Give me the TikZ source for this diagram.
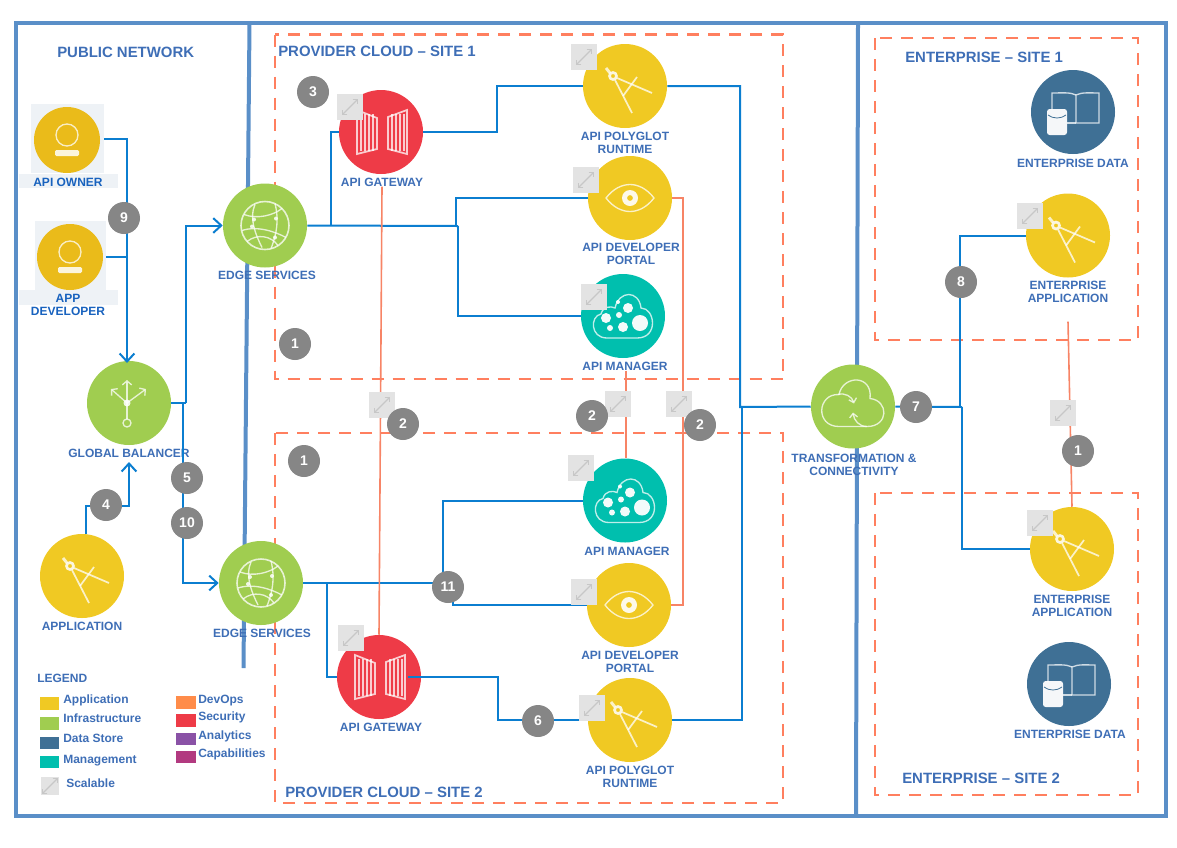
\documentclass[tikz,border=0pt]{standalone}
\usepackage{fontspec}
\setmainfont{Liberation Sans}
\usepackage{xcolor}
\usetikzlibrary{arrows.meta, positioning}
\definecolor{framblue}{RGB}{90,143,200}
\definecolor{siteorange}{RGB}{255,127,95}
\definecolor{linkblue}{RGB}{11,126,208}
\definecolor{redlink}{RGB}{247,132,102}
\definecolor{textblue}{RGB}{62,110,182}
\definecolor{peopleblue}{RGB}{24,98,190}
\definecolor{appyellow}{RGB}{240,201,35}
\definecolor{peopleyellow}{RGB}{234,187,26}
\definecolor{infragreen}{RGB}{160,205,80}
\definecolor{storeblue}{RGB}{63,112,149}
\definecolor{mgmtteal}{RGB}{0,191,174}
\definecolor{secred}{RGB}{238,59,71}
\definecolor{devorange}{RGB}{255,140,74}
\definecolor{anapurple}{RGB}{138,82,166}
\definecolor{capmagenta}{RGB}{178,58,128}
\definecolor{badgegray}{RGB}{134,134,134}
\definecolor{backgray}{RGB}{238,242,246}
\tikzset{
    svc/.style={circle, minimum size=63pt, inner sep=0pt},
    person/.style={circle, minimum size=49.5pt, inner sep=0pt, fill=peopleyellow},
    lbl/.style={text=textblue, font=\fontsize{9}{9.75}\selectfont\bfseries, align=center, inner sep=0pt},
    peoplelbl/.style={lbl, text=peopleblue},
    heading/.style={text=textblue, font=\fontsize{11.2}{13}\selectfont\bfseries, anchor=west, inner sep=0pt},
    legtext/.style={text=textblue, font=\fontsize{9}{10}\selectfont\bfseries, anchor=west, inner sep=0pt, text height=7pt, text depth=2pt},
    swatch/.style={minimum width=14.5pt, minimum height=9.5pt, inner sep=0pt},
    badge/.style={circle, fill=badgegray, text=white, minimum size=24pt, inner sep=0pt, font=\fontsize{10.5}{12}\selectfont\bfseries},
    backbox/.style={fill=backgray, inner sep=0pt},
    link/.style={draw=linkblue, line width=1.5pt, line join=miter},
    linkarrow/.style={link, -{Straight Barb[length=6pt, width=11pt, line width=1.5pt]}},
    devlink/.style={draw=redlink, line width=1.2pt},
    sitebox/.style={draw=siteorange, line width=2.1pt, dash pattern=on 9pt off 6.75pt},
    frameline/.style={draw=framblue, line width=3pt},
    icon/.style={draw=white, line width=1pt, opacity=.75},
    iconfill/.style={fill=white, draw=none, opacity=.85},
    scalebox/.style={fill=black!11, minimum size=19.5pt, inner sep=0pt, path picture={
        \draw[black!22, line width=1pt, {Straight Barb[length=2.5pt, width=5pt]}-{Straight Barb[length=2.5pt, width=5pt]}]
            ([shift={(-6pt,-6pt)}]path picture bounding box.center) -- ([shift={(6pt,6pt)}]path picture bounding box.center);
    }},
    pics/personicon/.style={code={
        \draw[icon] (0,-5) circle (11);
        \fill[iconfill, rounded corners=1pt] (-12,10) rectangle (12,16);
    }},
    pics/compass/.style={code={
        \draw[icon, line width=2pt, opacity=.85] (-12,-10) circle (3.5);
        \draw[icon, line width=2.2pt] (-19,-18) -- (-15,-13);
        \draw[icon, line width=1.3pt] (-10,-6) -- (7,27);
        \draw[icon, line width=1.3pt] (-8,-8) -- (27,7);
        \draw[icon, line width=1.3pt] (12,-9) -- (-2,10);
    }},
    pics/balancericon/.style={code={
        \draw[icon, line width=2pt] (-2,0) -- (-2,16);
        \draw[icon] (-2,20) circle (4);
        \fill[iconfill] (-2,0) circle (3.5);
        \draw[icon, -{Straight Barb[length=3pt, width=7pt]}] (-2,0) -- (-2,-23);
        \draw[icon, -{Straight Barb[length=3pt, width=7pt]}] (-2,0) -- (-18,-14);
        \draw[icon, -{Straight Barb[length=3pt, width=7pt]}] (-2,0) -- (17,-14);
    }},
    pics/globe/.style={code={
        \draw[icon, line width=1.2pt] (0,0) circle (24);
        \draw[icon] (-21,-11) .. controls (-8,-6) and (8,-10) .. (17,-17);
        \draw[icon] (-23,5) .. controls (-8,0) and (10,6) .. (21,12);
        \draw[icon] (-10,-21) .. controls (-16,-8) and (-10,8) .. (-3,22);
        \draw[icon] (10,-22) .. controls (14,-6) and (12,8) .. (6,23);
        \draw[icon] (-18,16) .. controls (-8,8) and (6,10) .. (13,20);
        \fill[iconfill] (11,-7) circle (2) (-13,1) circle (2) (10,12) circle (2) (-11,-6) circle (2);
    }},
    pics/gate/.style={code={
        \draw[icon, line width=1.3pt] (-24,-22) -- (-4,-14) -- (-4,17) -- (-24,22) -- cycle;
        \draw[icon, line width=1.3pt] (26,-22) -- (7,-15) -- (7,17) -- (26,22) -- cycle;
        \foreach \barx in {-20,-16,-12,-8} {
            \draw[icon] (\barx,-18) -- (\barx,19);
        }
        \foreach \barx in {11,15,19,23} {
            \draw[icon] (\barx,-18) -- (\barx,19);
        }
    }},
    pics/eye/.style={code={
        \draw[icon] (-24,0) .. controls (-10,-18) and (10,-18) .. (24,0) .. controls (10,18) and (-10,18) .. (-24,0) -- cycle;
        \fill[white, even odd rule, opacity=.9] (0,0) circle (8) (0,0) circle (3);
    }},
    pics/bubblecloud/.style={code={
        \draw[icon] (-16,22) .. controls (-33,22) and (-33,0) .. (-22,-2) .. controls (-20,-10) and (-12,-10) .. (-8,-8) .. controls (-4,-26) and (16,-26) .. (18,-8) .. controls (32,-8) and (36,22) .. (14,22) -- cycle;
        \fill[iconfill, opacity=.95] (17,7) circle (8) (5,-8) circle (5) (-17,2) circle (5) (0,11) circle (5) (-13,12) circle (3) (-4,-1) circle (3) (-5,-14) circle (2);
    }},
    pics/bookstore/.style={code={
        \draw[icon] (3,-17) .. controls (-3,-20) and (-11,-19) .. (-21,-19) -- (-21,-2);
        \draw[icon] (3,-17) .. controls (9,-20) and (17,-19) .. (26,-19) -- (26,11) -- (3,11) -- cycle;
        \draw[icon] (-6,11) -- (3,11);
        \fill[iconfill, opacity=.95, rounded corners=2pt] (-26,-3) rectangle (-6,23);
        \draw[storeblue, line width=.6pt] (-25,3) .. controls (-20,7) and (-12,7) .. (-7,3);
    }},
    pics/cloudloop/.style={code={
        \draw[icon] (-14,20) .. controls (-38,20) and (-36,-13) .. (-14,-12) .. controls (-10,-32) and (20,-32) .. (17,-8) .. controls (36,-6) and (36,20) .. (14,20) -- cycle;
        \draw[icon, -{Straight Barb[length=3pt, width=6pt]}] (-15,-12) .. controls (-8,-14) and (-1,-10) .. (1,-3);
        \draw[icon, -{Straight Barb[length=3pt, width=6pt]}] (14,20) .. controls (6,20) and (1,14) .. (0,6);
    }},
}

\begin{document}
\begin{tikzpicture}[x=0.75pt, y=-0.75pt]
    \useasboundingbox (0,0) rectangle (1177,847);

    % Frames
    \draw[frameline] (16,23) rectangle (1166,816);
    \draw[frameline] (249.5,23) -- (243.5,668);
    \draw[frameline] (858,23) -- (856,816);

    % Sites
    \draw[sitebox] (275,34.5) rectangle (783,379);
    \draw[sitebox] (275,433) rectangle (783,803);
    \draw[sitebox] (875,38) rectangle (1138,340);
    \draw[sitebox] (875,493) rectangle (1138,795);
    \node[heading] (headPublic) at (57,52) {PUBLIC NETWORK};
    \node[heading] (headCloudA) at (278,51) {PROVIDER CLOUD – SITE 1};
    \node[heading] (headCloudB) at (285,792) {PROVIDER CLOUD – SITE 2};
    \node[heading] (headEntA) at (905,57) {ENTERPRISE – SITE 1};
    \node[heading] (headEntB) at (902,778) {ENTERPRISE – SITE 2};

    % Back of the people
    \node[backbox, minimum width=54.75pt, minimum height=51.75pt] (ownerBack) at (67.5,138.5) {};
    \node[backbox, minimum width=74.25pt, minimum height=10.5pt] (ownerLabelBack) at (68.5,181) {};
    \node[backbox, minimum width=53.25pt, minimum height=51.75pt] (devBack) at (70.5,255.5) {};
    \node[backbox, minimum width=74.25pt, minimum height=11.25pt] (devLabelBack) at (68.5,297.5) {};

    % Services
    \node[person] (apiOwner) at (67,140) {};
    \node[person] (appDev) at (70,257) {};
    \node[svc, fill=infragreen] (balancer) at (129,403) {};
    \node[svc, fill=appyellow] (application) at (82,576) {};
    \node[svc, fill=infragreen] (edgeA) at (265,225.5) {};
    \node[svc, fill=infragreen] (edgeB) at (261,583) {};
    \node[svc, fill=secred] (gatewayA) at (381,132) {};
    \node[svc, fill=appyellow] (polyglotA) at (625,86) {};
    \node[svc, fill=appyellow] (portalA) at (630,198) {};
    \node[svc, fill=mgmtteal] (managerA) at (623,316) {};
    \node[svc, fill=mgmtteal] (managerB) at (625,500.5) {};
    \node[svc, fill=appyellow] (portalB) at (629,605) {};
    \node[svc, fill=secred] (gatewayB) at (379,677) {};
    \node[svc, fill=appyellow] (polyglotB) at (630,720) {};
    \node[svc, fill=infragreen] (transform) at (853,406.5) {};
    \node[svc, fill=storeblue] (dataA) at (1073,112) {};
    \node[svc, fill=appyellow] (entAppA) at (1068,235.5) {};
    \node[svc, fill=appyellow] (entAppB) at (1072,549) {};
    \node[svc, fill=storeblue] (dataB) at (1069,684) {};

    % Labels
    \node[peoplelbl] (apiOwnerLabel) at (68,182) {API OWNER};
    \node[peoplelbl] (appDevLabel) at (68,305) {APP\\DEVELOPER};
    \node[lbl] (balancerLabel) at (129,453) {GLOBAL BALANCER};
    \node[lbl] (applicationLabel) at (82,626) {APPLICATION};
    \node[lbl] (edgeALabel) at (267,275) {EDGE SERVICES};
    \node[lbl] (edgeBLabel) at (262,633) {EDGE SERVICES};
    \node[lbl] (gatewayALabel) at (382,182) {API GATEWAY};
    \node[lbl] (polyglotALabel) at (625,142.5) {API POLYGLOT\\RUNTIME};
    \node[lbl] (portalALabel) at (631,253.5) {API DEVELOPER\\PORTAL};
    \node[lbl] (managerALabel) at (625,366) {API MANAGER};
    \node[lbl] (managerBLabel) at (627,551) {API MANAGER};
    \node[lbl] (portalBLabel) at (630,661.5) {API DEVELOPER\\PORTAL};
    \node[lbl] (gatewayBLabel) at (381,727) {API GATEWAY};
    \node[lbl] (polyglotBLabel) at (630,776.5) {API POLYGLOT\\RUNTIME};
    \node[lbl] (transformLabel) at (854,464.5) {TRANSFORMATION \&\\CONNECTIVITY};
    \node[lbl] (dataALabel) at (1073,163) {ENTERPRISE DATA};
    \node[lbl] (entAppALabel) at (1068,291.5) {ENTERPRISE\\APPLICATION};
    \node[lbl] (entAppBLabel) at (1072,605.5) {ENTERPRISE\\APPLICATION};
    \node[lbl] (dataBLabel) at (1070,734) {ENTERPRISE DATA};

    % Public network links
    \coordinate (balancerTop) at (127,363);
    \coordinate (balancerBottom) at (129,462);
    \coordinate (splitUp) at (186,403);
    \coordinate (splitDown) at (183,403);
    \draw[linkarrow] (ownerBack.east) -| (balancerTop);
    \draw[link] (devBack.east |- appDev.center) -- (balancerTop |- appDev.center);
    \draw[linkarrow] (application.north -| 86,0) |- (107,506) -| (balancerBottom);
    \draw[link] (balancer.east) -- (splitUp);
    \draw[linkarrow] (splitUp) |- (edgeA.west);
    \draw[linkarrow] (splitDown) |- (edgeB.west);

    % Site 1 links
    \coordinate (forkA) at (331,226);
    \coordinate (forkB) at (456,226);
    \coordinate (forkC) at (458,226);
    \coordinate (hubUp) at (740,407);
    \draw[link] (edgeA.east) -- (forkC);
    \draw[link] (forkA) |- (gatewayA.west);
    \draw[link] (gatewayA.east) -- (497,132) |- (polyglotA.west);
    \draw[link] (forkB) |- (portalA.west);
    \draw[link] (forkC) |- (managerA.west);
    \draw[link] (polyglotA.east) -| (hubUp) -- (transform.west);

    % Site 2 links
    \coordinate (forkD) at (327,583);
    \coordinate (forkE) at (443,583);
    \coordinate (forkF) at (453,590);
    \draw[link] (edgeB.east) -- (forkE);
    \draw[link] (forkE) |- (managerB.west);
    \draw[link] (forkF) |- (portalB.west);
    \draw[link] (forkD) |- (gatewayB.west);
    \draw[link] ([xshift=-10pt]gatewayB.east) -- (498,677) |- (polyglotB.west);
    \draw[link] (polyglotB.east) -- (742,720) -- (742,407);

    % Enterprise links
    \coordinate (hubDown) at (962,407);
    \draw[link] (transform.east) -- (hubDown);
    \draw[link] (960,407) |- (entAppA.west);
    \draw[link] (hubDown) |- (entAppB.west);

    % DevOps links
    \draw[devlink] (gatewayALabel.south) -- (gatewayB.north);
    \draw[devlink] (managerALabel.south -| 626,0) -- (managerB.north -| 626,0);
    \draw[devlink] (portalA.east) -- (683,198) -- (683,605) -- (portalB.east);
    \draw[devlink] (entAppALabel.south) ++(0,19) -- (entAppB.north);

    % Icons
    \pic at (apiOwner) {personicon};
    \pic at (appDev) {personicon};
    \pic at (balancer) {balancericon};
    \pic at (application) {compass};
    \pic at (edgeA) {globe};
    \pic at (edgeB) {globe};
    \pic at (gatewayA) {gate};
    \pic at (gatewayB) {gate};
    \pic at (polyglotA) {compass};
    \pic at (polyglotB) {compass};
    \pic at (portalA) {eye};
    \pic at (portalB) {eye};
    \pic at (managerA) {bubblecloud};
    \pic at (managerB) {bubblecloud};
    \pic at (transform) {cloudloop};
    \pic at (dataA) {bookstore};
    \pic at (dataB) {bookstore};
    \pic at (entAppA) {compass};
    \pic at (entAppB) {compass};

    % Scalable marks
    \node[scalebox] (scaleGatewayA) at (350,107) {};
    \node[scalebox] (scalePolyglotA) at (584,57) {};
    \node[scalebox] (scalePortalA) at (586,180) {};
    \node[scalebox] (scaleManagerA) at (594,297) {};
    \node[scalebox] (scaleManagerB) at (581,468) {};
    \node[scalebox] (scalePortalB) at (584,592) {};
    \node[scalebox] (scaleGatewayB) at (351,638) {};
    \node[scalebox] (scalePolyglotB) at (592,708) {};
    \node[scalebox] (scaleEntA) at (1030,216) {};
    \node[scalebox] (scaleEntB) at (1040,523) {};
    \node[scalebox] (scaleLinkA) at (382,405) {};
    \node[scalebox] (scaleLinkB) at (618,404) {};
    \node[scalebox] (scaleLinkC) at (679,404) {};
    \node[scalebox] (scaleLinkD) at (1063,413) {};

    % Badges
    \node[badge] (badgeNine) at (124,218) {9};
    \node[badge] (badgeThree) at (313,92) {3};
    \node[badge] (badgeOneA) at (295,344) {1};
    \node[badge] (badgeOneB) at (304,461) {1};
    \node[badge] (badgeOneC) at (1078,451) {1};
    \node[badge] (badgeTwoA) at (403,424) {2};
    \node[badge] (badgeTwoB) at (592,416) {2};
    \node[badge] (badgeTwoC) at (700,425) {2};
    \node[badge] (badgeFour) at (106,505) {4};
    \node[badge] (badgeFive) at (187,478) {5};
    \node[badge] (badgeTen) at (187,523) {10};
    \node[badge] (badgeEleven) at (448,587) {11};
    \node[badge] (badgeSix) at (538,721) {6};
    \node[badge] (badgeSeven) at (916,407) {7};
    \node[badge] (badgeEight) at (961,282) {8};

    % Legend
    \node[legtext] (legendTitle) at (37,679.5) {LEGEND};
    \node[swatch, fill=appyellow] (legApp) at (49.5,703.5) {};
    \node[swatch, fill=infragreen] (legInfra) at (49.5,723.5) {};
    \node[swatch, fill=storeblue] (legStore) at (49.5,743) {};
    \node[swatch, fill=mgmtteal] (legMgmt) at (49.5,762) {};
    \node[swatch, fill=devorange] (legDev) at (186,702.5) {};
    \node[swatch, fill=secred] (legSec) at (186,720.5) {};
    \node[swatch, fill=anapurple] (legAna) at (186,739) {};
    \node[swatch, fill=capmagenta] (legCap) at (186,757) {};
    \node[scalebox, minimum size=14pt] (legScale) at (50,786) {};
    \node[legtext] at (63,699.7) {Application};
    \node[legtext] at (63,718.7) {Infrastructure};
    \node[legtext] at (63,738.7) {Data Store};
    \node[legtext] at (63,759.7) {Management};
    \node[legtext] at (66,783.7) {Scalable};
    \node[legtext] at (198,699.7) {DevOps};
    \node[legtext] at (198,717.2) {Security};
    \node[legtext] at (198,735.7) {Analytics};
    \node[legtext] at (198,754.2) {Capabilities};
\end{tikzpicture}
\end{document}
